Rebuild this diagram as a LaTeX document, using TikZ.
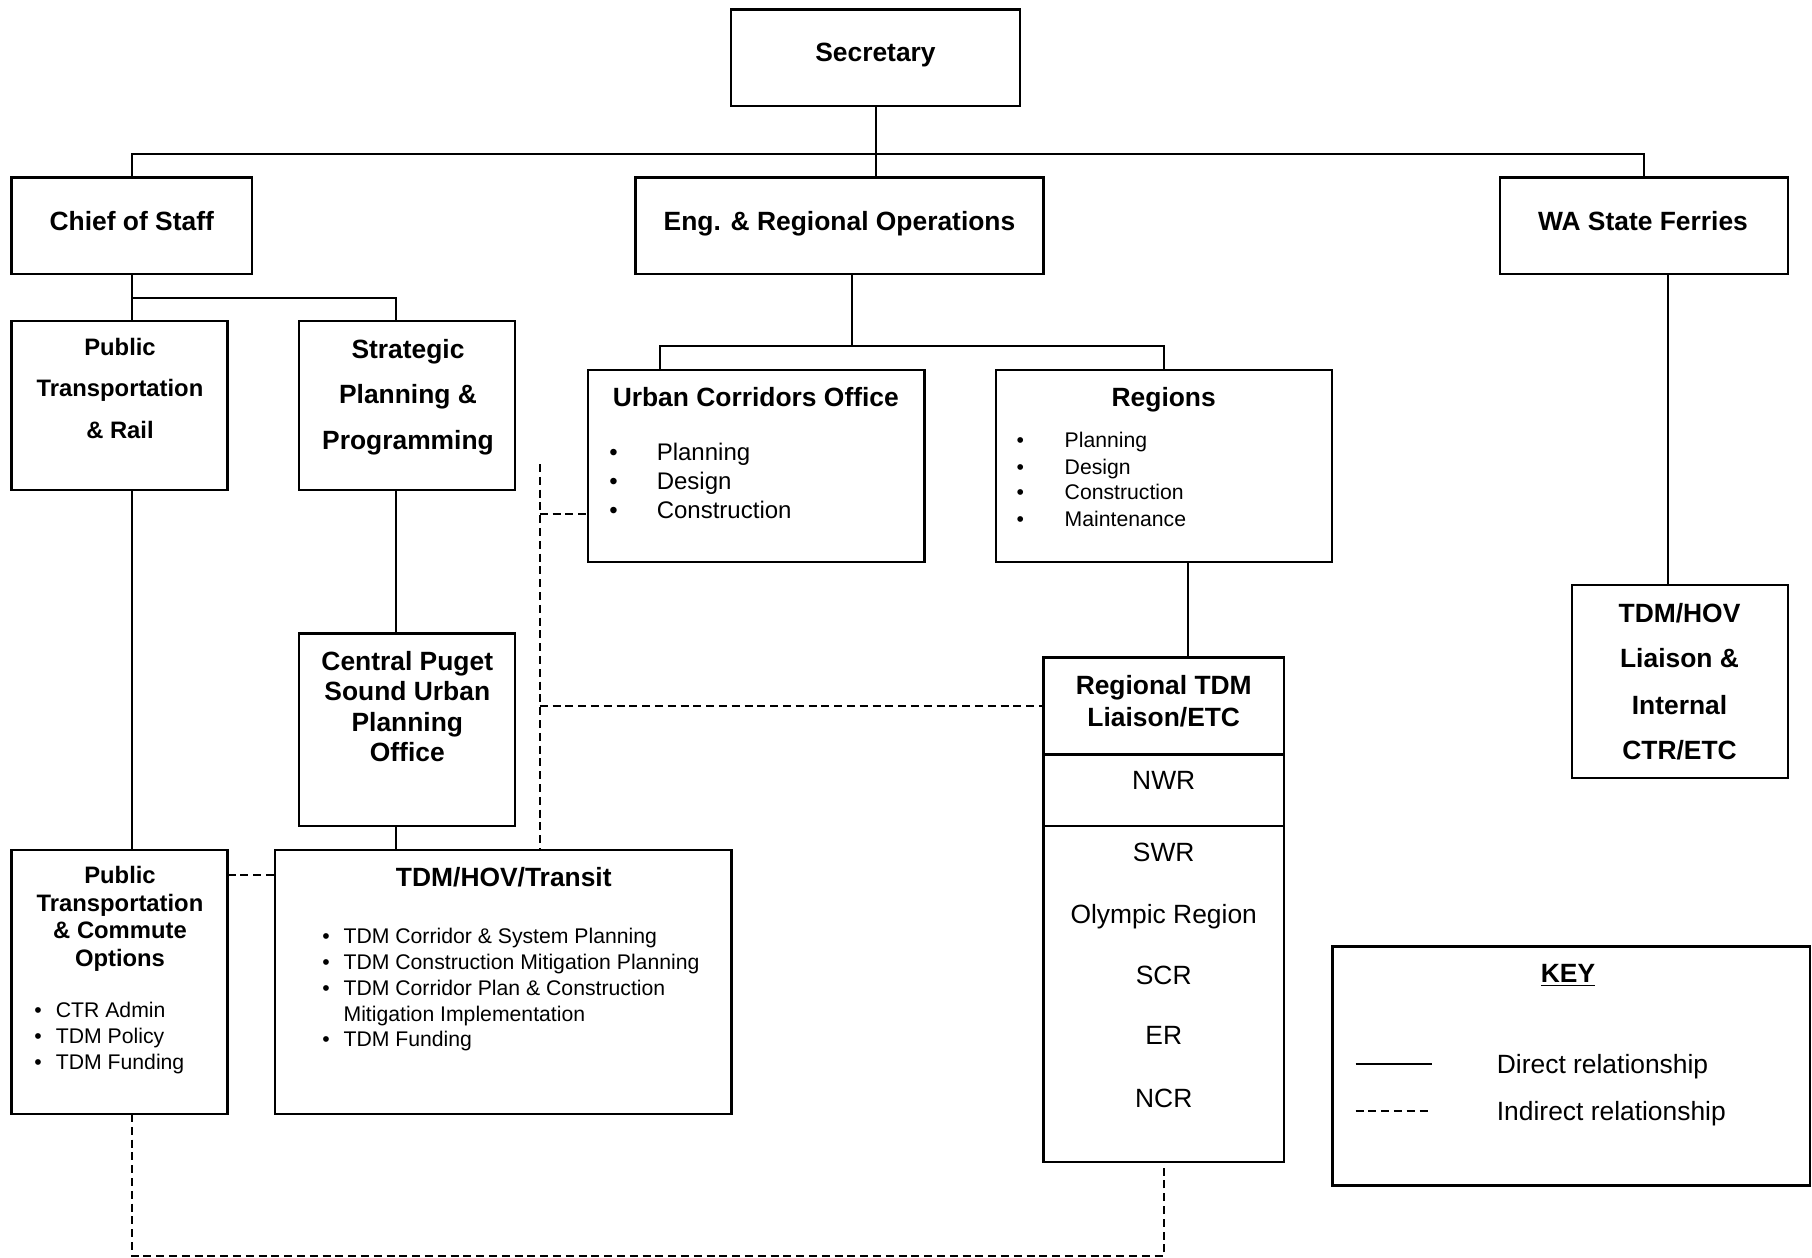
\documentclass[tikz,border=0pt]{standalone}
\usepackage{fontspec}
\setmainfont{Liberation Sans}
\begin{document}
\begin{tikzpicture}[x=0.5pt,y=-0.5pt,
  box/.style={draw,line width=1.1pt,inner sep=0pt,outer sep=0pt},
  sz/.style 2 args={minimum width=#1*0.5pt,minimum height=#2*0.5pt},
  conn/.style={line width=1pt},
  ind/.style={line width=1pt,dash pattern=on 4pt off 2.4pt},
  tA/.style={inner sep=0pt,anchor=base,font=\fontsize{13.2}{15}\selectfont\bfseries},
  tB/.style={inner sep=0pt,anchor=base,font=\fontsize{11.9}{14}\selectfont\bfseries},
  tC/.style={inner sep=0pt,anchor=base,font=\fontsize{12}{14}\selectfont},
  tD/.style={inner sep=0pt,anchor=base,font=\fontsize{10.6}{12}\selectfont},
  tE/.style={inner sep=0pt,anchor=base,font=\fontsize{13.2}{15}\selectfont},
  lw/.style={anchor=base west}
]
\useasboundingbox (0,0) rectangle (1812,1258);

% boxes
\node[box,sz={289}{96.5}] (sec) at (875.5,57.75) {};
\node[box,sz={240.5}{96.5}] (cos) at (131.75,225.75) {};
\node[box,sz={408}{96.5}] (eng) at (839.5,225.75) {};
\node[box,sz={288}{96.5}] (wa) at (1644,225.75) {};
\node[box,sz={216}{169}] (ptr) at (119.5,405.5) {};
\node[box,sz={216}{169}] (spp) at (407.3,405.5) {};
\node[box,sz={336.5}{192}] (uco) at (756.2,465.6) {};
\node[box,sz={336}{192}] (reg) at (1164,465.6) {};
\node[box,sz={240.5}{504.5}] (rtdm) at (1163.75,909.75) {};
\node[box,sz={216.4}{192.3}] (lia) at (1679.8,681.5) {};
\node[box,sz={216}{192.3}] (cps) at (407.3,729.6) {};
\node[box,sz={456.5}{264}] (trn) at (503.2,982) {};
\node[box,sz={216}{264}] (ptco) at (119.5,982) {};
\node[box,sz={477.6}{239}] (key) at (1571.2,1066) {};

% dividers in regional box
\draw[line width=1.1pt] (rtdm.west |- 0,754.5) -- (rtdm.east |- 0,754.5);
\draw[line width=1.1pt] (rtdm.west |- 0,826) -- (rtdm.east |- 0,826);

% solid connectors
\coordinate (busT) at (875.5,153.6);
\draw[conn] (sec.south) -- (sec.south |- eng.north);
\draw[conn] (cos.north) |- (busT) -| (wa.north);

\coordinate (busC) at (131.75,297.5);
\coordinate (xs) at (396.4,0);
\draw[conn] (cos.south) -- (busC |- ptr.north);
\draw[conn] (busC) -| (xs |- spp.north);
\draw[conn] (busC |- ptr.south) -- (busC |- ptco.north);
\draw[conn] (xs |- spp.south) -- (xs |- cps.north);
\draw[conn] (xs |- cps.south) -- (xs |- trn.north);

\coordinate (busE) at (851.7,345.7);
\coordinate (xu) at (660,0);
\draw[conn] (busE |- eng.south) -- (busE);
\draw[conn] (xu |- uco.north) |- (reg.north |- busE) -- (reg.north);
\coordinate (xr) at (1188,0);
\draw[conn] (xr |- reg.south) -- (xr |- rtdm.north);
\coordinate (xw) at (1667.5,0);
\draw[conn] (xw |- wa.south) -- (xw |- lia.north);

% indirect connectors
\draw[ind] (ptco.east |- 0,875) -- (trn.west |- 0,875);
\coordinate (dtop) at (539.7,464);
\draw[ind] (dtop) -- (dtop |- trn.north);
\draw[ind] (dtop |- 0,514) -- (uco.west |- 0,514);
\draw[ind] (dtop |- 0,705.6) -- (rtdm.west |- 0,705.6);
\coordinate (dbot) at (131.75,1256);
\draw[ind] (dbot |- ptco.south) -- (dbot) -| (rtdm.south);

% key
\coordinate (k1) at (1355.5,1064); \coordinate (k2) at (1432,1064);
\draw[conn] (k1) -- (k2);
\coordinate (k3) at (1355.5,1110.6); \coordinate (k4) at (1432,1110.6);
\draw[ind] (k3) -- (k4);

% texts
\node[tA] (tsec) at (875.5,61.5) {Secretary};
\node[tA] (tcos) at (131.75,230) {Chief of Staff};
\node[tA] (teng) at (839.5,230) {Eng. \& Regional Operations};
\node[tA] (twa) at (1643,230) {WA State Ferries};

\node[tB] (tptr1) at (120,355.2) {Public};
\node[tB] (tptr2) at (120,396.8) {Transportation};
\node[tB] (tptr3) at (120,438.5) {\& Rail};

\node[tA] (tspp1) at (408,358) {Strategic};
\node[tA] (tspp2) at (408,403) {Planning \&};
\node[tA] (tspp3) at (408,449.5) {Programming};

\node[tA] (tuco) at (755.8,406) {Urban Corridors Office};
\node[tC] (bu1) at (613.6,460.4) {•};
\node[tC] (bu2) at (613.6,489.3) {•};
\node[tC] (bu3) at (613.6,518.2) {•};
\node[tC,lw] (tu1) at (656.4,460.4) {Planning};
\node[tC,lw] (tu2) at (656.4,489.3) {Design};
\node[tC,lw] (tu3) at (656.4,518.2) {Construction};

\node[tA] (treg) at (1163.7,406) {Regions};
\node[tD] (br1) at (1020.4,447.9) {•};
\node[tD] (br2) at (1020.4,474.5) {•};
\node[tD] (br3) at (1020.4,499.9) {•};
\node[tD] (br4) at (1020.4,526.5) {•};
\node[tD,lw] (tr1) at (1064.3,447.9) {Planning};
\node[tD,lw] (tr2) at (1064.3,474.5) {Design};
\node[tD,lw] (tr3) at (1064.3,499.9) {Construction};
\node[tD,lw] (tr4) at (1064.3,526.5) {Maintenance};

\node[tA] (tcps1) at (407.3,670.5) {Central Puget};
\node[tA] (tcps2) at (407.3,700.5) {Sound Urban};
\node[tA] (tcps3) at (407.3,731.5) {Planning};
\node[tA] (tcps4) at (407.3,761.5) {Office};

\node[tA] (trt1) at (1163.75,694.5) {Regional TDM};
\node[tA] (trt2) at (1163.75,726) {Liaison/ETC};
\node[tE] (trt3) at (1163.75,789.5) {NWR};
\node[tE] (trt4) at (1163.75,861.2) {SWR};
\node[tE] (trt5) at (1163.75,923.5) {Olympic Region};
\node[tE] (trt6) at (1163.75,984.5) {SCR};
\node[tE] (trt7) at (1163.75,1044.5) {ER};
\node[tE] (trt8) at (1163.75,1107.5) {NCR};

\node[tA] (tlia1) at (1679.5,622) {TDM/HOV};
\node[tA] (tlia2) at (1679.5,667) {Liaison \&};
\node[tA] (tlia3) at (1679.5,714.5) {Internal};
\node[tA] (tlia4) at (1679.5,759.5) {CTR/ETC};

\node[tB] (tpc1) at (120,883.3) {Public};
\node[tB] (tpc2) at (120,911) {Transportation};
\node[tB] (tpc3) at (120,938.8) {\& Commute};
\node[tB] (tpc4) at (120,966.5) {Options};
\node[tD] (bp1) at (38,1017.6) {•};
\node[tD] (bp2) at (38,1043) {•};
\node[tD] (bp3) at (38,1069.6) {•};
\node[tD,lw] (tp1) at (55.5,1017.6) {CTR Admin};
\node[tD,lw] (tp2) at (55.5,1043) {TDM Policy};
\node[tD,lw] (tp3) at (55.5,1069.6) {TDM Funding};

\node[tA] (ttrn) at (503.8,886.5) {TDM/HOV/Transit};
\node[tD] (bt1) at (326,943.6) {•};
\node[tD] (bt2) at (326,969.1) {•};
\node[tD] (bt3) at (326,995.6) {•};
\node[tD] (bt5) at (326,1046.6) {•};
\node[tD,lw] (tt1) at (343.2,943.6) {TDM Corridor \& System Planning};
\node[tD,lw] (tt2) at (343.2,969.1) {TDM Construction Mitigation Planning};
\node[tD,lw] (tt3) at (343.2,995.6) {TDM Corridor Plan \& Construction};
\node[tD,lw] (tt4) at (343.2,1021.1) {Mitigation Implementation};
\node[tD,lw] (tt5) at (343.2,1046.6) {TDM Funding};

\node[tA] (tkey) at (1568,982.5) {\underline{KEY}};
\node[tE,lw] (tk1) at (1496.5,1073.5) {Direct relationship};
\node[tE,lw] (tk2) at (1496.5,1120) {Indirect relationship};
\end{tikzpicture}
\end{document}
